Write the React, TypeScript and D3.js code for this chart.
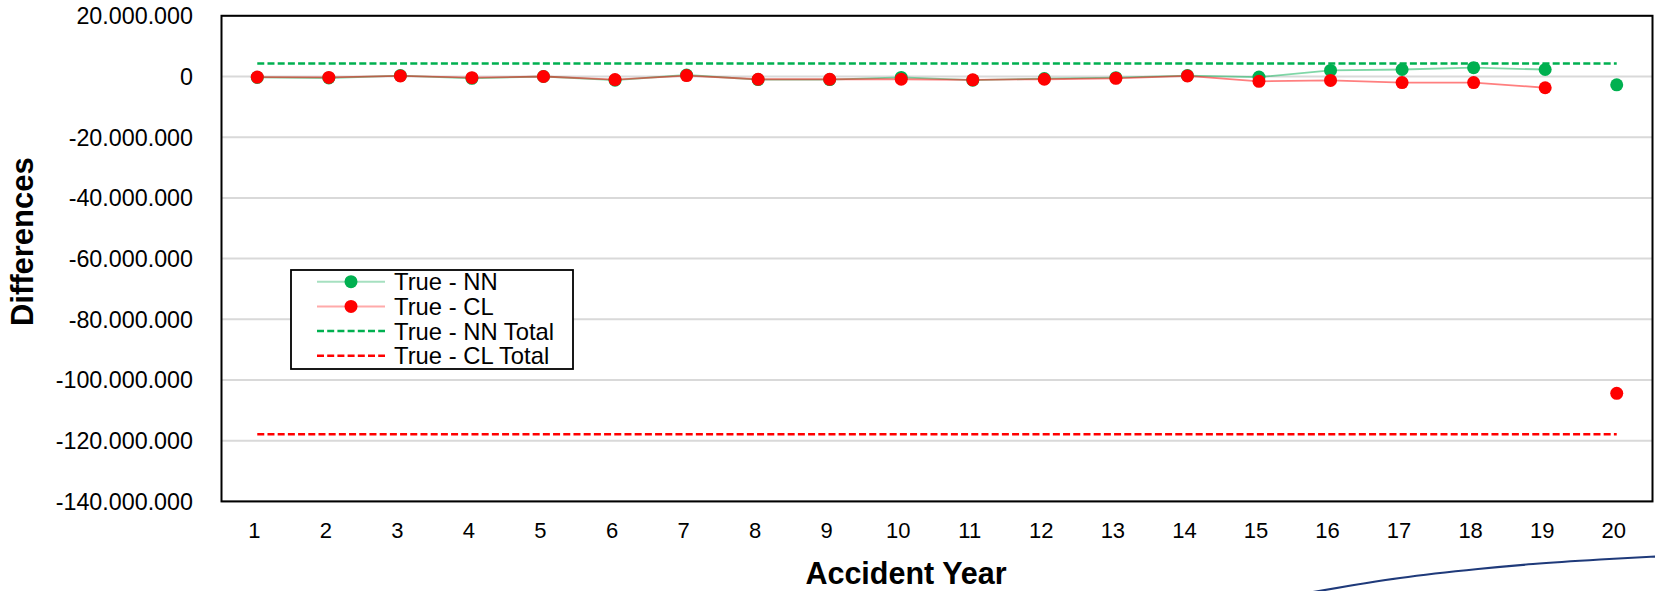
import React from "react";
import * as d3 from "d3";

// Accident years on the x axis
const years: number[] = [1, 2, 3, 4, 5, 6, 7, 8, 9, 10, 11, 12, 13, 14, 15, 16, 17, 18, 19, 20];

// Per-year differences (true reserve minus estimate)
const trueMinusNN: number[] = [
  -300000, -500000, 300000, -600000, 0, -1200000, 500000, -1000000, -1000000, -300000,
  -1200000, -700000, -400000, 300000, -200000, 2000000, 2300000, 2900000, 2300000, -2750000,
];
const trueMinusCL: number[] = [
  -200000, -300000, 200000, -400000, 0, -1000000, 300000, -900000, -900000, -900000,
  -1100000, -900000, -600000, 200000, -1600000, -1300000, -2000000, -2000000, -3700000, -104400000,
];

// Aggregate differences over all years
const nnTotal = 4300000;
const clTotal = -117900000;

// Only the first years are joined by a line; the last year stands alone
const linkedYears = 19;

// Y axis tick values
const yTickValues: number[] = [20000000, 0, -20000000, -40000000, -60000000, -80000000, -100000000, -120000000, -140000000];

const legendItems = [
  { label: "True - NN", kind: "marker", color: "#00b050", pale: "#a6e0c0" },
  { label: "True - CL", kind: "marker", color: "#ff0000", pale: "#ffaaaa" },
  { label: "True - NN Total", kind: "dash", color: "#00b050", pale: "#00b050" },
  { label: "True - CL Total", kind: "dash", color: "#ff0000", pale: "#ff0000" },
];

const W = 1655;
const H = 591;
const FONT = "'Liberation Sans', Arial, Helvetica, sans-serif";

const plot = { left: 221.5, right: 1652.5, top: 15.8, bottom: 501.4 };

const numFmt = d3
  .formatLocale({ decimal: ",", thousands: ".", grouping: [3], currency: ["", ""], minus: "-" })
  .format(",d");

export default function App() {
  const x = d3
    .scalePoint<number>()
    .domain(years)
    .range([plot.left, plot.right])
    .padding(0.5);
  const y = d3.scaleLinear().domain([-140000000, 20000000]).range([plot.bottom, plot.top]);

  const line = d3
    .line<number>()
    .defined((_, i) => i < linkedYears)
    .x((_, i) => x(years[i]) as number)
    .y((d) => y(d));

  const x0 = x(years[0]) as number;
  const x1 = x(years[years.length - 1]) as number;

  // decorative swoosh in the lower-right corner
  const swoosh = d3
    .line<[number, number]>()
    .curve(d3.curveMonotoneX)([
      [1313, 592],
      [1400, 578],
      [1478, 569],
      [1533, 564],
      [1600, 559.5],
      [1656, 556.5],
    ]);

  const legend = { x: 291, y: 270, w: 282, h: 99, row0: 11.7, rowStep: 24.7 };

  return (
    <div style={{ position: "absolute", left: 0, top: 0, width: W, height: H, overflow: "hidden", background: "#fff" }}>
      <svg width={W} height={H} style={{ display: "block", fontFamily: FONT }}>
        <rect width={W} height={H} fill="#fff" />

        {/* gridlines */}
        {yTickValues.map((t) => (
          <line key={"g" + t} x1={plot.left} x2={plot.right} y1={y(t)} y2={y(t)} stroke="#d9d9d9" strokeWidth={2} />
        ))}

        {/* y tick labels */}
        {yTickValues.map((t) => (
          <text key={"yl" + t} x={193} y={y(t)} dy="0.36em" textAnchor="end" fontSize={23.3} fill="#000">
            {numFmt(t)}
          </text>
        ))}

        {/* x tick labels */}
        {years.map((yr) => (
          <text key={"xl" + yr} x={(x(yr) as number) - 3} y={538} textAnchor="middle" fontSize={22} fill="#000">
            {yr}
          </text>
        ))}

        {/* total reference lines */}
        <line x1={x0} x2={x1} y1={y(nnTotal)} y2={y(nnTotal)} stroke="#00b050" strokeWidth={2.5} strokeDasharray="7,3.2" />
        <line x1={x0} x2={x1} y1={y(clTotal)} y2={y(clTotal)} stroke="#ff0000" strokeWidth={2.5} strokeDasharray="7,3.2" />

        {/* series lines */}
        <path d={line(trueMinusNN) || ""} fill="none" stroke="#00b050" strokeOpacity={0.5} strokeWidth={1.8} />
        <path d={line(trueMinusCL) || ""} fill="none" stroke="#ff0000" strokeOpacity={0.5} strokeWidth={1.8} />

        {/* series markers */}
        {trueMinusNN.map((v, i) => (
          <circle key={"nn" + i} cx={x(years[i])} cy={y(v)} r={6.5} fill="#00b050" />
        ))}
        {trueMinusCL.map((v, i) => (
          <circle key={"cl" + i} cx={x(years[i])} cy={y(v)} r={6.5} fill="#ff0000" />
        ))}

        {/* plot frame */}
        <rect
          x={plot.left}
          y={plot.top}
          width={plot.right - plot.left}
          height={plot.bottom - plot.top}
          fill="none"
          stroke="#000"
          strokeWidth={2}
        />

        {/* legend */}
        <g>
          <rect x={legend.x} y={legend.y} width={legend.w} height={legend.h} fill="#fff" stroke="#000" strokeWidth={1.8} />
          {legendItems.map((it, i) => {
            const cy = legend.y + legend.row0 + i * legend.rowStep;
            return (
              <g key={it.label}>
                {it.kind === "marker" ? (
                  <>
                    <line x1={317} x2={385} y1={cy} y2={cy} stroke={it.pale} strokeWidth={2} />
                    <circle cx={351} cy={cy} r={6.5} fill={it.color} />
                  </>
                ) : (
                  <line x1={317} x2={385} y1={cy} y2={cy} stroke={it.color} strokeWidth={2.5} strokeDasharray="7,3.2" />
                )}
                <text x={394} y={cy} dy="0.36em" fontSize={23.8} fill="#000">
                  {it.label}
                </text>
              </g>
            );
          })}
        </g>

        {/* axis titles */}
        <text x={906} y={584} textAnchor="middle" fontSize={30.5} fontWeight="bold" fill="#000">
          Accident Year
        </text>
        <text
          transform={`translate(33,${241.7}) rotate(-90)`}
          textAnchor="middle"
          fontSize={31}
          fontWeight="bold"
          fill="#000"
        >
          Differences
        </text>

        <path d={swoosh || ""} fill="none" stroke="#1f3a7a" strokeWidth={2.2} />
      </svg>
    </div>
  );
}
